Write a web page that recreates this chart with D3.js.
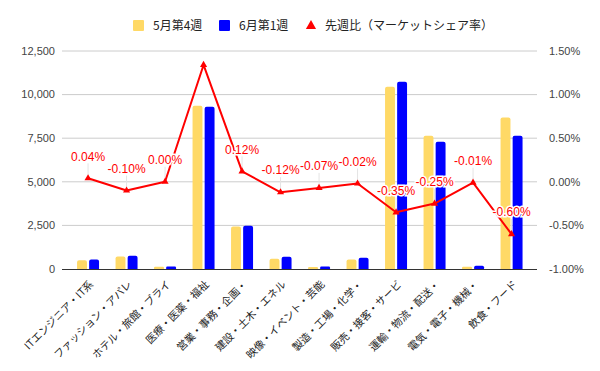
<!DOCTYPE html>
<html>
<head>
<meta charset="utf-8">
<script src="https://cdn.jsdelivr.net/npm/d3@7"></script>
<style>
  body { margin: 0; background: #fff; }
  svg { display: block; }
</style>
</head>
<body>
<div id="chart"></div>
<script>
// combo chart: weekly counts by job category (bars) + week-over-week share change (line)

const categories = [
  "ITエンジニア・IT系", "ファッション・アパレ", "ホテル・旅館・ブライ", "医療・医薬・福祉",
  "営業・事務・企画・", "建設・土木・エネル", "映像・イベント・芸能", "製造・工場・化学・",
  "販売・接客・サービ", "運輸・物流・配送・", "電気・電子・機械・", "飲食・フード"
];
const seriesNames = ["5月第4週", "6月第1週"];
const may4 = [500, 710, 130, 9360, 2430, 590, 120, 540, 10450, 7640, 130, 8680];
const jun1 = [540, 760, 140, 9300, 2480, 700, 140, 650, 10740, 7300, 190, 7640];
const shareChange = [0.04, -0.10, 0.00, 1.34, 0.12, -0.12, -0.07, -0.02, -0.35, -0.25, -0.01, -0.60];
const shareLabels = ["0.04%", "-0.10%", "0.00%", null, "0.12%", "-0.12%", "-0.07%", "-0.02%", "-0.35%", "-0.25%", "-0.01%", "-0.60%"];
const leftTicks = [0, 2500, 5000, 7500, 10000, 12500];
const rightTicks = [-1.0, -0.5, 0, 0.5, 1.0, 1.5];
const lineName = "先週比（マーケットシェア率）";

const width = 600, height = 371;
const colors = { "5月第4週": "#ffd966", "6月第1週": "#0000ff" };
const red = "#ff0000";
const latin = "'Liberation Sans', Arial, sans-serif";
const cjk = "'Noto Sans CJK JP', sans-serif";

const svg = d3.select("#chart").append("svg")
  .attr("width", width)
  .attr("height", height);

// scales
const x = d3.scaleBand().domain(categories).range([68.8, 530.8]);
const xs = d3.scaleBand().domain(seriesNames).range([0, 22]).paddingInner(0.18);
const y = d3.scaleLinear().domain([0, 12500]).range([269, 51]);
const y2 = d3.scaleLinear().domain([-1.0, 1.5]).range([269, 51]);

const gridLeft = 62, gridRight = 537;

// gridlines
svg.append("g")
  .selectAll("line")
  .data(leftTicks.slice(1))
  .join("line")
  .attr("x1", gridLeft).attr("x2", gridRight)
  .attr("y1", d => y(d)).attr("y2", d => y(d))
  .attr("stroke", "#cccccc").attr("stroke-width", 1);

// left axis labels
svg.append("g")
  .selectAll("text")
  .data(leftTicks)
  .join("text")
  .attr("x", 55).attr("y", d => y(d))
  .attr("dy", "0.35em")
  .attr("text-anchor", "end")
  .style("font-family", latin).style("font-size", "11px")
  .attr("fill", "#444")
  .text(d => d3.format(",")(d));

// right axis labels
svg.append("g")
  .selectAll("text")
  .data(rightTicks)
  .join("text")
  .attr("x", 549).attr("y", d => y2(d))
  .attr("dy", "0.35em")
  .attr("text-anchor", "start")
  .style("font-family", latin).style("font-size", "11px")
  .attr("fill", "#444")
  .text(d => d.toFixed(2) + "%");

// bars with rounded tops
function barPath(x0, w, y0, y1) {
  const r = Math.min(2, (y1 - y0) / 2, w / 2);
  return `M${x0},${y1}V${y0 + r}Q${x0},${y0} ${x0 + r},${y0}H${x0 + w - r}Q${x0 + w},${y0} ${x0 + w},${y0 + r}V${y1}Z`;
}

const barData = [];
categories.forEach((c, i) => {
  barData.push({ cat: c, s: "5月第4週", v: may4[i] });
  barData.push({ cat: c, s: "6月第1週", v: jun1[i] });
});

const bandOffset = (x.bandwidth() - 22) / 2;
svg.append("g")
  .selectAll("path")
  .data(barData)
  .join("path")
  .attr("d", d => barPath(x(d.cat) + bandOffset + xs(d.s), xs.bandwidth(), y(d.v), y(0)))
  .attr("fill", d => colors[d.s]);

// baseline
svg.append("line")
  .attr("x1", gridLeft).attr("x2", gridRight)
  .attr("y1", y(0) + 0.5).attr("y2", y(0) + 0.5)
  .attr("stroke", "#333").attr("stroke-width", 1);

// x labels, rotated
svg.append("g")
  .selectAll("text")
  .data(categories)
  .join("text")
  .attr("transform", d => `translate(${x(d) + x.bandwidth() / 2 + 6},${285}) rotate(-45)`)
  .attr("text-anchor", "end")
  .style("font-family", cjk).style("font-size", "10.5px")
  .attr("fill", "#222")
  .text(d => d);

// line series
const pts = categories.map((c, i) => ({
  x: x(c) + x.bandwidth() / 2,
  y: y2(shareChange[i]),
  label: shareLabels[i]
}));

// leader lines from labels
svg.append("g")
  .selectAll("line")
  .data(pts.filter(p => p.label))
  .join("line")
  .attr("x1", p => p.x).attr("x2", p => p.x)
  .attr("y1", p => p.y - 15).attr("y2", p => p.y - 3)
  .attr("stroke", "#e4e4e4").attr("stroke-width", 1);

svg.append("path")
  .datum(pts)
  .attr("d", d3.line().x(p => p.x).y(p => p.y))
  .attr("fill", "none")
  .attr("stroke", red)
  .attr("stroke-width", 2)
  .attr("stroke-linejoin", "round");

const tri = d3.symbol().type(d3.symbolTriangle).size(22);
svg.append("g")
  .selectAll("path")
  .data(pts)
  .join("path")
  .attr("transform", p => `translate(${p.x},${p.y})`)
  .attr("d", tri)
  .attr("fill", red);

// data labels with white halo
svg.append("g")
  .selectAll("text")
  .data(pts.filter(p => p.label))
  .join("text")
  .attr("x", p => p.x).attr("y", p => p.y - 22)
  .attr("dy", "0.35em")
  .attr("text-anchor", "middle")
  .style("font-family", latin).style("font-size", "12px")
  .attr("fill", red)
  .attr("stroke", "#fff").attr("stroke-width", 3)
  .attr("paint-order", "stroke")
  .text(p => p.label);

// legend
const legend = svg.append("g").style("font-family", cjk).style("font-size", "12px");
const legendItems = [
  { name: seriesNames[0], kind: "rect", color: colors[seriesNames[0]], x: 133 },
  { name: seriesNames[1], kind: "rect", color: colors[seriesNames[1]], x: 219 },
  { name: lineName, kind: "tri", color: red, x: 306 }
];
legendItems.forEach(it => {
  if (it.kind === "rect") {
    legend.append("rect")
      .attr("x", it.x).attr("y", 20)
      .attr("width", 11).attr("height", 11)
      .attr("rx", 1)
      .attr("fill", it.color);
  } else {
    legend.append("path")
      .attr("transform", `translate(${it.x + 5},${26})`)
      .attr("d", d3.symbol().type(d3.symbolTriangle).size(45))
      .attr("fill", it.color);
  }
  legend.append("text")
    .attr("x", it.x + (it.kind === "rect" ? 20 : 19))
    .attr("y", 26).attr("dy", "0.35em")
    .attr("fill", "#222")
    .text(it.name);
});
</script>
</body>
</html>
